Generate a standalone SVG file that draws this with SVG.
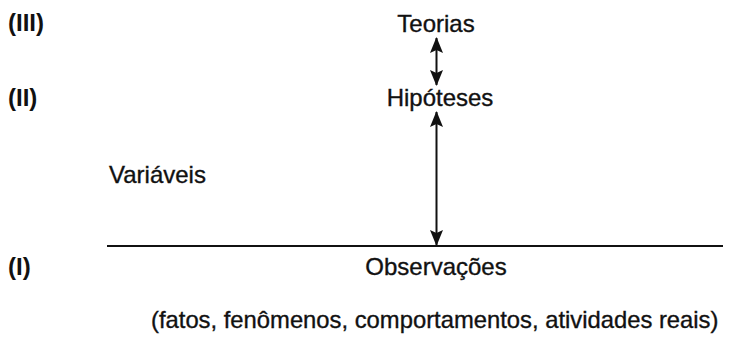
<svg xmlns="http://www.w3.org/2000/svg" width="730" height="337" viewBox="0 0 730 337">
<style>
text{font-family:"Liberation Sans",Arial,sans-serif;font-size:24px;fill:#111;stroke:#111;stroke-width:0.35}
.c{text-anchor:middle}
.b{font-weight:bold;stroke:none}
.ln{stroke:#111;stroke-width:2;fill:none}
</style>
<defs>
<marker id="ah" viewBox="0 0 16 13" refX="15" refY="6.5" markerWidth="16" markerHeight="13" markerUnits="userSpaceOnUse" orient="auto-start-reverse">
<path d="M0,0 L16,6.5 L0,13 L3,6.5 Z" fill="#111"/>
</marker>
</defs>
<rect width="730" height="337" fill="#fff"/>
<g id="level-III"><text class="b" x="8" y="31">(III)</text></g>
<g id="level-II"><text class="b" x="8" y="106">(II)</text></g>
<g id="level-I"><text class="b" x="8" y="275">(I)</text></g>
<g id="teorias"><text class="c" x="436" y="32">Teorias</text></g>
<g id="hipoteses"><text class="c" x="440" y="106">Hipóteses</text></g>
<g id="variaveis"><text x="109" y="183">Variáveis</text></g>
<g id="observacoes">
<line class="ln" x1="107" y1="246" x2="723" y2="246"/>
<text class="c" x="436" y="275">Observações</text>
</g>
<g id="nota"><text x="151" y="328" style="font-size:23.8px">(fatos, fenômenos, comportamentos, atividades reais)</text></g>
<g id="connectors">
<line class="ln" x1="436.5" y1="38" x2="436.5" y2="85" marker-start="url(#ah)" marker-end="url(#ah)"/>
<line class="ln" x1="436.5" y1="112" x2="436.5" y2="245" marker-start="url(#ah)" marker-end="url(#ah)"/>
</g>
</svg>
